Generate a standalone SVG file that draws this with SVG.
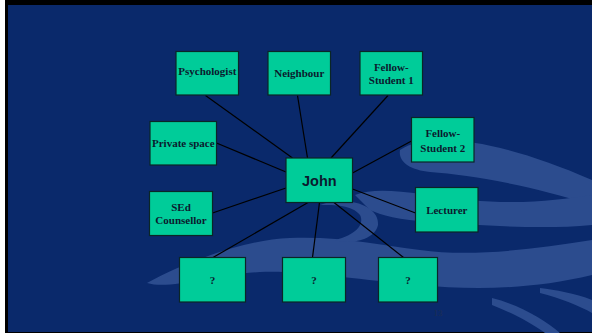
<svg xmlns="http://www.w3.org/2000/svg" width="592" height="333" viewBox="0 0 592 333">
<defs>
<style>
.box{fill:#00CC99;stroke:#0a2626;stroke-width:1.2}
.lbl{font-family:"Liberation Serif","Times New Roman",serif;font-weight:bold;font-size:11px;fill:#0b1a2e;text-anchor:middle}
.main{font-family:"Liberation Sans",Arial,sans-serif;font-weight:bold;font-size:14.5px;fill:#0b1a2e;text-anchor:middle}
.sw{fill:#2C4C8E}
.con line{stroke:#000;stroke-width:1.2}
</style>
</defs>
<rect x="0" y="0" width="592" height="333" fill="#ffffff"/>
<rect x="5" y="0" width="587" height="333" fill="#000000"/>
<rect x="8" y="5" width="584" height="327" fill="#0A296B"/>
<g id="background">
<path class="sw" d="M400,150 C430,130 500,140 592,180 L592,205 C530,185 470,175 430,172 C410,170 398,162 400,150 Z"/>
<path class="sw" d="M355,195 C380,185 420,195 470,200 C520,205 560,200 592,195 L592,225 C540,230 480,225 430,222 C400,220 380,215 370,210 Z"/>
<path class="sw" d="M147,283 C180,265 240,240 290,238 C340,236 380,245 420,250 C470,257 530,250 592,240 L592,275 C530,290 470,290 420,285 C360,280 300,270 260,272 C210,275 170,290 147,283 Z"/>
<path class="sw" d="M320,205 C345,195 380,205 378,225 C375,240 350,245 335,240 C355,235 365,225 360,215 C352,205 335,205 320,205 Z"/>
<path class="sw" d="M492,305 C510,312 530,322 545,333 L560,333 C545,320 520,305 492,298 Z"/>
<path class="sw" d="M540,293 C560,298 580,306 592,313 L592,300 C575,293 555,290 540,288 Z"/>
</g>
<g id="connectors" class="con">
<line x1="205.5" y1="95.5" x2="292.5" y2="158"/>
<line x1="297.5" y1="95.5" x2="307.5" y2="158"/>
<line x1="388" y1="95.5" x2="331" y2="158"/>
<line x1="216.5" y1="143" x2="286" y2="172"/>
<line x1="411.5" y1="141" x2="352.5" y2="173"/>
<line x1="212.5" y1="213" x2="286" y2="188"/>
<line x1="352.5" y1="189" x2="415.5" y2="213"/>
<line x1="213" y1="257.5" x2="308" y2="202.5"/>
<line x1="312.3" y1="259" x2="319.5" y2="202.5"/>
<line x1="403.5" y1="257.5" x2="334" y2="202.5"/>
</g>
<g id="john"><rect class="box" x="286" y="158" width="66.5" height="44.5"/><text class="main" x="319.3" y="186">John</text></g>
<g id="psychologist"><rect class="box" x="176" y="51.5" width="62.5" height="43.5"/><text class="lbl" x="207.3" y="74.5">Psychologist</text></g>
<g id="neighbour"><rect class="box" x="268" y="51.5" width="62.5" height="43.5"/><text class="lbl" x="299.3" y="77">Neighbour</text></g>
<g id="fellow-student-1"><rect class="box" x="360" y="51.5" width="62.5" height="43.5"/><text class="lbl" x="391.3" y="70.5">Fellow-</text><text class="lbl" x="391.3" y="84">Student 1</text></g>
<g id="private-space"><rect class="box" x="150" y="121.5" width="66.5" height="43.5"/><text class="lbl" x="183.3" y="146.5">Private space</text></g>
<g id="fellow-student-2"><rect class="box" x="411.5" y="117.5" width="62.5" height="44.5"/><text class="lbl" x="442.8" y="136.5">Fellow-</text><text class="lbl" x="442.8" y="151.5">Student 2</text></g>
<g id="sed-counsellor"><rect class="box" x="149.5" y="191.5" width="63" height="44"/><text class="lbl" x="181" y="211">SEd</text><text class="lbl" x="181" y="224">Counsellor</text></g>
<g id="lecturer"><rect class="box" x="415.5" y="187.5" width="62.5" height="44.5"/><text class="lbl" x="446.8" y="214">Lecturer</text></g>
<g id="unknown-1"><rect class="box" x="179.5" y="257.5" width="66" height="44.5"/><text class="lbl" x="212.5" y="284">?</text></g>
<g id="unknown-2"><rect class="box" x="282.5" y="257.5" width="63" height="44.5"/><text class="lbl" x="314" y="284">?</text></g>
<g id="unknown-3"><rect class="box" x="378.5" y="257.5" width="59" height="44.5"/><text class="lbl" x="408" y="284">?</text></g>
<text x="438" y="316" font-family="Liberation Serif,serif" font-size="9" fill="#1e2e52" text-anchor="middle">13</text>
</svg>
